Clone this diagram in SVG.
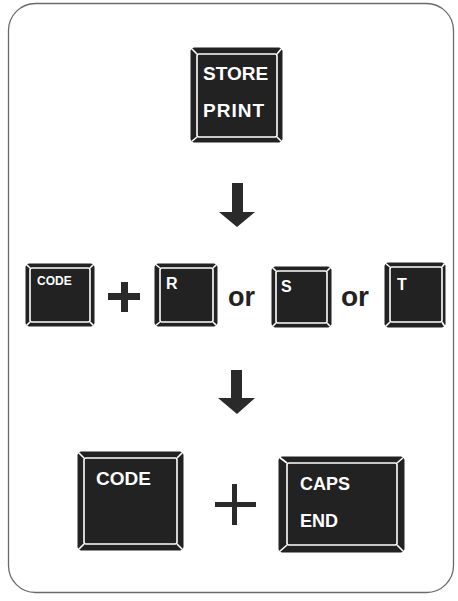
<svg xmlns="http://www.w3.org/2000/svg" width="458" height="601" viewBox="0 0 458 601">
<style>
.body{fill:#222;stroke:#222;stroke-width:1;stroke-linejoin:round}
.face{fill:none;stroke:#fff;stroke-width:1.6;stroke-linejoin:round}
.bev{stroke:#fff;stroke-width:1.6}
.lbl{fill:#fff;font-family:"Liberation Sans",Arial,sans-serif;font-weight:bold}
.or{fill:#222;font-family:"Liberation Sans",Arial,sans-serif;font-weight:bold}
.ink{fill:#2a2a2a}
</style>
<rect x="8.5" y="3.5" width="445" height="589" rx="27" fill="#fff" stroke="#6a6a6a" stroke-width="1.3"/>

<g id="key-store-print">
<rect class="body" x="191" y="48" width="91" height="94" rx="3"/>
<rect class="face" x="197" y="54" width="80" height="83" rx="2"/>
<path class="bev" d="M191,48L197,54M282,48L277,54M191,142L197,137M282,142L277,137"/>
<text class="lbl" x="203" y="80" font-size="19">STORE</text>
<text class="lbl" x="203" y="117" font-size="19" letter-spacing="1">PRINT</text>
</g>

<g id="key-code-small">
<rect class="body" x="26" y="264" width="68" height="62" rx="3"/>
<rect class="face" x="30" y="268" width="60" height="54" rx="2"/>
<path class="bev" d="M26,264L30,268M94,264L90,268M26,326L30,322M94,326L90,322"/>
<text class="lbl" x="37" y="285" font-size="12">CODE</text>
</g>

<g id="key-r">
<rect class="body" x="155" y="264" width="62" height="62" rx="3"/>
<rect class="face" x="160" y="268" width="53" height="54" rx="2"/>
<path class="bev" d="M155,264L160,268M217,264L213,268M155,326L160,322M217,326L213,322"/>
<text class="lbl" x="166" y="289" font-size="16">R</text>
</g>

<g id="key-s">
<rect class="body" x="272" y="267" width="59" height="60" rx="3"/>
<rect class="face" x="276" y="271" width="51" height="52" rx="2"/>
<path class="bev" d="M272,267L276,271M331,267L327,271M272,327L276,323M331,327L327,323"/>
<text class="lbl" x="281" y="292" font-size="16">S</text>
</g>

<g id="key-t">
<rect class="body" x="385" y="263" width="60" height="64" rx="3"/>
<rect class="face" x="390" y="267" width="52" height="55" rx="2"/>
<path class="bev" d="M385,263L390,267M445,263L442,267M385,327L390,322M445,327L442,322"/>
<text class="lbl" x="397" y="290" font-size="16">T</text>
</g>

<g id="key-code-large">
<rect class="body" x="78" y="452" width="105" height="98" rx="3"/>
<rect class="face" x="84" y="458" width="93" height="86" rx="2"/>
<path class="bev" d="M78,452L84,458M183,452L177,458M78,550L84,544M183,550L177,544"/>
<text class="lbl" x="96" y="485" font-size="19">CODE</text>
</g>

<g id="key-caps-end">
<rect class="body" x="279" y="457" width="125" height="95" rx="3"/>
<rect class="face" x="287" y="463" width="110" height="82" rx="2"/>
<path class="bev" d="M279,457L287,463M404,457L397,463M279,552L287,545M404,552L397,545"/>
<text class="lbl" x="300" y="490" font-size="18">CAPS</text>
<text class="lbl" x="300" y="527" font-size="18">END</text>
</g>

<g id="connectors">
<polygon class="ink" points="232,183 243,183 243,212 255,212 237,227 219,212 232,212"/>
<polygon class="ink" points="231,370 242,370 242,398 255,398 237,414 218,398 231,398"/>
<path class="ink" d="M121,282h7v11h12v7h-12v12h-7v-12h-13v-7h13z"/>
<path class="ink" d="M232,484h5v18h19v5h-19v18h-5v-18h-17v-5h17z"/>
<text class="or" x="228" y="306" font-size="27">or</text>
<text class="or" x="341" y="306" font-size="28">or</text>
</g>
</svg>
